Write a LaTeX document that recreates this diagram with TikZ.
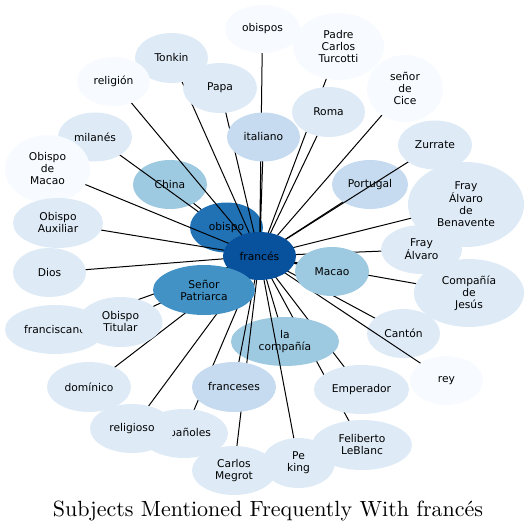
\documentclass[tikz,border=0pt]{standalone}
\usepackage{xcolor}
\usepackage{fontspec}
\usepackage{tikz}
\usetikzlibrary{positioning, shapes.geometric}
\newfontfamily\bubfont{DejaVu Sans}
\newfontfamily\titlefont{lmroman10-regular}[Extension=.otf]
\definecolor{blue0}{HTML}{F7FBFF}
\definecolor{blue1}{HTML}{DEEBF7}
\definecolor{blue2}{HTML}{C6DBEF}
\definecolor{blue3}{HTML}{9ECAE1}
\definecolor{blue5}{HTML}{4292C6}
\definecolor{blue6}{HTML}{2171B5}
\definecolor{blue7}{HTML}{08519C}
\pgfdeclarelayer{edgesA}
\pgfdeclarelayer{nodesA}
\pgfdeclarelayer{edgesB}
\pgfdeclarelayer{nodesB}
\pgfdeclarelayer{edgesC}
\pgfdeclarelayer{top}
\pgfsetlayers{edgesA,nodesA,edgesB,nodesB,edgesC,main,top}
\tikzset{
  bub/.style={ellipse, inner sep=0pt, outer sep=0pt, align=center,
              font=\bubfont\fontsize{10.7}{12}\selectfont, text=black},
  link/.style={line width=1pt, black},
}

\begin{document}
\begin{tikzpicture}[x=1pt, y=-1pt]
    \useasboundingbox (0,0) rectangle (529,531);

    % nodes under some of the links
    \begin{pgfonlayer}{nodesA}
      \node[bub, fill=blue3, minimum width=74pt, minimum height=49pt] (china) at (170,184.5) {China};
      \node[bub, fill=blue2, minimum width=76pt, minimum height=49pt] (portugal) at (370,184.5) {Portugal};
      \node[bub, fill=blue1, minimum width=73pt, minimum height=49pt] (canton) at (403.5,333.5) {Cantón};
      \node[bub, fill=blue3, minimum width=108pt, minimum height=49pt] (lacomp) at (285,341.5) {la\\compañía};
    \end{pgfonlayer}
    \begin{pgfonlayer}{nodesB}
      \node[bub, fill=blue6, minimum width=73pt, minimum height=50pt] (obispo) at (226.5,227.5) {obispo};
    \end{pgfonlayer}

    % outer nodes
    \node[bub, fill=blue0, minimum width=75pt, minimum height=48pt] (obispos) at (262.5,29) {obispos};
    \node[bub, fill=blue0, minimum width=91pt, minimum height=67pt] (padre) at (338.5,46.5) {Padre\\Carlos\\Turcotti};
    \node[bub, fill=blue1, minimum width=73pt, minimum height=50pt] (tonkin) at (171.5,58) {Tonkin};
    \node[bub, fill=blue1, minimum width=74pt, minimum height=50pt] (papa) at (220,88) {Papa};
    \node[bub, fill=blue0, minimum width=73pt, minimum height=49pt] (religion) at (113.5,81.5) {religión};
    \node[bub, fill=blue0, minimum width=76pt, minimum height=67pt] (cice) at (405,88.5) {señor\\de\\Cice};
    \node[bub, fill=blue1, minimum width=73pt, minimum height=50pt] (roma) at (328.5,112) {Roma};
    \node[bub, fill=blue2, minimum width=73pt, minimum height=49pt] (italiano) at (263.5,137) {italiano};
    \node[bub, fill=blue1, minimum width=74pt, minimum height=49pt] (milanes) at (95,137) {milanés};
    \node[bub, fill=blue0, minimum width=85pt, minimum height=68pt] (obmacao) at (47.5,169) {Obispo\\de\\Macao};
    \node[bub, fill=blue1, minimum width=74pt, minimum height=49pt] (zurrate) at (435,145) {Zurrate};
    \node[bub, fill=blue1, minimum width=116pt, minimum height=85pt] (benavente) at (466,204.5) {Fray\\Álvaro\\de\\Benavente};
    \node[bub, fill=blue1, minimum width=90pt, minimum height=50pt] (auxiliar) at (58,223) {Obispo\\Auxiliar};
    \node[bub, fill=blue1, minimum width=81pt, minimum height=49pt] (alvaro) at (421.5,249.5) {Fray\\Álvaro};
    \node[bub, fill=blue1, minimum width=73pt, minimum height=49pt] (dios) at (49.5,272.5) {Dios};
    \node[bub, fill=blue3, minimum width=74pt, minimum height=49pt] (macao) at (332,271.5) {Macao};
    \node[bub, fill=blue1, minimum width=110pt, minimum height=68pt] (jesus) at (469,293) {Compañía\\de\\Jesús};
    \node[bub, fill=blue1, minimum width=100pt, minimum height=49pt] (franciscano) at (55,329.5) {franciscano};
    \node[bub, fill=blue1, minimum width=84pt, minimum height=50pt] (titular) at (120.5,322) {Obispo\\Titular};
    \node[bub, fill=blue0, minimum width=73pt, minimum height=49pt] (rey) at (446.5,380.5) {rey};
    \node[bub, fill=blue1, minimum width=84pt, minimum height=50pt] (dominico) at (89,387) {domínico};
    \node[bub, fill=blue1, minimum width=95pt, minimum height=49pt] (emperador) at (361.5,389.5) {Emperador};
    \node[bub, fill=blue2, minimum width=84pt, minimum height=50pt] (franceses) at (234,387) {franceses};
    \node[bub, fill=blue1, minimum width=88pt, minimum height=49pt] (espanoles) at (184,433.5) {españoles};
    \node[bub, fill=blue1, minimum width=84pt, minimum height=49pt] (religioso) at (132,428.5) {religioso};
    \node[bub, fill=blue1, minimum width=84pt, minimum height=49pt] (megrot) at (234,470.5) {Carlos\\Megrot};
    \node[bub, fill=blue1, minimum width=73pt, minimum height=50pt] (peking) at (298.5,463) {Pe\\king};
    \node[bub, fill=blue1, minimum width=100pt, minimum height=50pt] (leblanc) at (362,445) {Feliberto\\LeBlanc};

    % hub and the node above it
    \begin{pgfonlayer}{top}
      \node[bub, fill=blue7, minimum width=73pt, minimum height=48pt] (frances) at (259.5,256) {francés};
      \node[bub, fill=blue5, minimum width=102pt, minimum height=50pt] (patriarca) at (204,290) {Señor\\Patriarca};
    \end{pgfonlayer}

    % links to the hub
    \begin{pgfonlayer}{edgesA}
      \draw[link] (china.center) -- (frances.center)
                  (portugal.center) -- (frances.center)
                  (canton.center) -- (frances.center)
                  (lacomp.center) -- (frances.center)
                  (obispo.center) -- (frances.center)
                  (leblanc.center) -- (frances.center)
                  (emperador.center) -- (frances.center);
    \end{pgfonlayer}
    \begin{pgfonlayer}{edgesB}
      \draw[link] (milanes.center) -- (frances.center);
    \end{pgfonlayer}
    \begin{pgfonlayer}{edgesC}
      \draw[link] (obispos.center) -- (frances.center)
                  (padre.center) -- (frances.center)
                  (tonkin.center) -- (frances.center)
                  (papa.center) -- (frances.center)
                  (religion.center) -- (frances.center)
                  (cice.center) -- (frances.center)
                  (roma.center) -- (frances.center)
                  (italiano.center) -- (frances.center)
                  (obmacao.center) -- (frances.center)
                  (zurrate.center) -- (frances.center)
                  (benavente.center) -- (frances.center)
                  (auxiliar.center) -- (frances.center)
                  (alvaro.center) -- (frances.center)
                  (dios.center) -- (frances.center)
                  (macao.center) -- (frances.center)
                  (jesus.center) -- (frances.center)
                  (franciscano.center) -- (frances.center)
                  (titular.center) -- (frances.center)
                  (rey.center) -- (frances.center)
                  (dominico.center) -- (frances.center)
                  (franceses.center) -- (frances.center)
                  (espanoles.center) -- (frances.center)
                  (religioso.center) -- (frances.center)
                  (megrot.center) -- (frances.center)
                  (peking.center) -- (frances.center)
                  (patriarca.center) -- (frances.center);
    \end{pgfonlayer}

    \node[font=\titlefont\fontsize{22}{26}\selectfont, anchor=base] (title) at (268,516) {Subjects Mentioned Frequently With francés};
\end{tikzpicture}
\end{document}
